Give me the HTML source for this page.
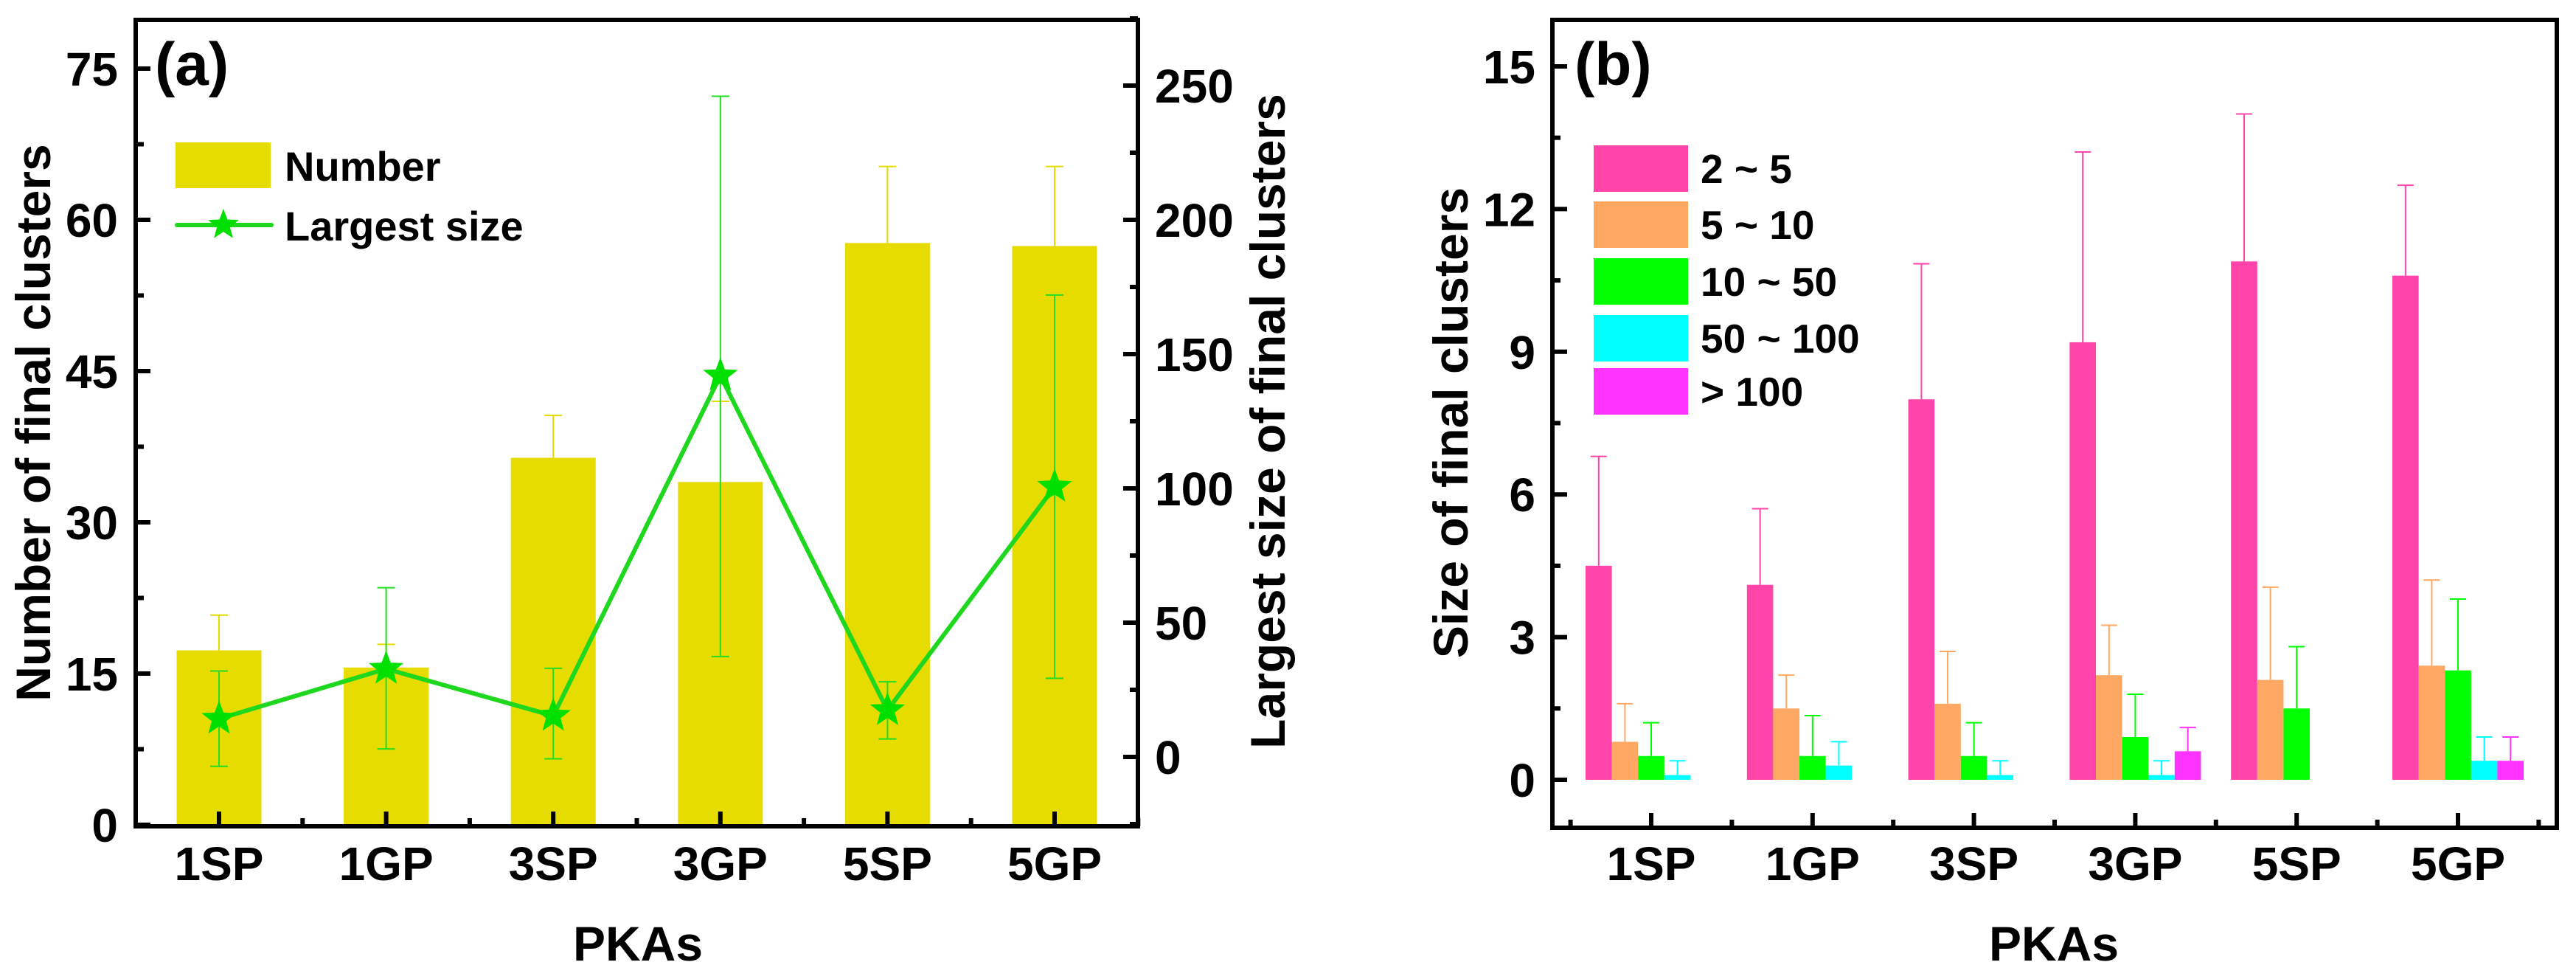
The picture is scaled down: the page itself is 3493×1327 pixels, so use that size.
<!DOCTYPE html>
<html><head><meta charset="utf-8"><style>
html,body{margin:0;padding:0;background:#fff;}
svg{display:block;font-family:"Liberation Sans",Arial,sans-serif;font-weight:bold;}
</style></head><body>
<svg id="chart" width="3493" height="1327" viewBox="0 0 3493 1327" xmlns="http://www.w3.org/2000/svg">
<g id="pa"></g>
<g id="pb"></g>
</svg>
<script>
// ---- Panel (a) data ----
const catsA = ["1SP","1GP","3SP","3GP","5SP","5GP"];
const numberVals = [17.3, 15.6, 36.4, 34.0, 57.7, 57.4];
const numberErrTop = [20.8, 17.9, 40.6, 42.0, 65.3, 65.3];
const largestVals = [14.2, 32.8, 15.3, 142, 17.4, 100.6];
const largestErrHi = [32, 63, 33, 246, 28, 172];
const largestErrLo = [-3.5, 3, -0.7, 37.4, 6.7, 29.3];
const ticksLeftA = [0,15,30,45,60,75];
const ticksRightA = [0,50,100,150,200,250];
// ---- Panel (b) data ----
const catsB = ["1SP","1GP","3SP","3GP","5SP","5GP"];
const seriesNames = ["2 ~ 5","5 ~ 10","10 ~ 50","50 ~ 100","> 100"];
const s25 = [4.5, 4.1, 8.0, 9.2, 10.9, 10.6];
const s25Err = [6.8, 5.7, 10.85, 13.2, 14.0, 12.5];
const s510 = [0.8, 1.5, 1.6, 2.2, 2.1, 2.4];
const s510Err = [1.6, 2.2, 2.7, 3.25, 4.05, 4.2];
const s1050 = [0.5, 0.5, 0.5, 0.9, 1.5, 2.3];
const s1050Err = [1.2, 1.35, 1.2, 1.8, 2.8, 3.8];
const s50100 = [0.1, 0.3, 0.1, 0.1, null, 0.4];
const s50100Err = [0.4, 0.8, 0.4, 0.4, null, 0.9];
const s100 = [null, null, null, 0.6, null, 0.4];
const s100Err = [null, null, null, 1.1, null, 0.9];
const ticksB = [0,3,6,9,12,15];

const NS="http://www.w3.org/2000/svg";
function mk(parent, tag, attrs, text){
  const e=document.createElementNS(NS,tag);
  for(const k in attrs) e.setAttribute(k,attrs[k]);
  if(text!==undefined) e.textContent=text;
  parent.appendChild(e); return e;
}
function star(cx,cy,r){
  let p=[];
  for(let i=0;i<10;i++){const a=-Math.PI/2+i*Math.PI/5;const rr=i%2?r*0.42:r;p.push((cx+rr*Math.cos(a)).toFixed(1)+","+(cy+rr*Math.sin(a)).toFixed(1));}
  return p.join(" ");
}
const TF=64;

// ===== Panel A =====
const A = document.getElementById('pa');
const aL=184, aR=1543, aT=27, aB=1120;
const yA = v => 1118 - v*(1118-93)/75;
const yA2 = v => 1026 - v*(1026-116)/250;
const xA = i => 297 + i*226.6;
const bwA = 115;
numberVals.forEach((v,i)=>{
  const r=mk(A,'rect',{x:xA(i)-bwA/2,y:yA(v),width:bwA,height:yA(0)-yA(v),fill:'#E6DC00'});
  
  
  const e=mk(A,'path',{d:`M${xA(i)} ${yA(v)}V${yA(numberErrTop[i])}M${xA(i)-12} ${yA(numberErrTop[i])}H${xA(i)+12}`,stroke:'#E6DC00','stroke-width':2,fill:'none'});
  
  
});
largestVals.forEach((v,i)=>{
  const x=xA(i),h=yA2(largestErrHi[i]),l=yA2(largestErrLo[i]);
  const e=mk(A,'path',{d:`M${x} ${h}V${l}M${x-12} ${h}H${x+12}M${x-12} ${l}H${x+12}`,stroke:'#22DD22','stroke-width':2,fill:'none'});
  
  
});
const line=mk(A,'polyline',{points:largestVals.map((v,i)=>xA(i)+','+yA2(v)).join(' '),fill:'none',stroke:'#1ED71E','stroke-width':6,'stroke-linejoin':'round'});


largestVals.forEach((v,i)=>{
  const s=mk(A,'polygon',{points:star(xA(i),yA2(v),22),fill:'#00E000',stroke:'#00E000','stroke-width':2});
  
  
});
const fa=mk(A,'rect',{x:aL,y:aT,width:aR-aL,height:aB-aT,fill:'none',stroke:'#000','stroke-width':6});


ticksLeftA.forEach((t,i)=>{
  mk(A,'line',{x1:aL,x2:aL+20,y1:yA(t),y2:yA(t),stroke:'#000','stroke-width':6});
  if(i<ticksLeftA.length-1) mk(A,'line',{x1:aL,x2:aL+11,y1:yA(t+7.5),y2:yA(t+7.5),stroke:'#000','stroke-width':6});
  const tx=mk(A,'text',{x:160,y:yA(t)+23,'text-anchor':'end','font-size':TF},t);
  
  
});
ticksRightA.forEach((t,i)=>{
  mk(A,'line',{x1:aR,x2:aR-20,y1:yA2(t),y2:yA2(t),stroke:'#000','stroke-width':6});
  mk(A,'line',{x1:aR,x2:aR-11,y1:yA2(t+25),y2:yA2(t+25),stroke:'#000','stroke-width':6});
  const tx=mk(A,'text',{x:1566,y:yA2(t)+23,'text-anchor':'start','font-size':TF},t);
  
  
});
mk(A,'line',{x1:aR,x2:aR-11,y1:yA2(-25),y2:yA2(-25),stroke:'#000','stroke-width':6});
catsA.forEach((c,i)=>{
  mk(A,'line',{x1:xA(i),x2:xA(i),y1:aB,y2:aB-20,stroke:'#000','stroke-width':6});
  mk(A,'line',{x1:xA(i)+113.3,x2:xA(i)+113.3,y1:aB,y2:aB-11,stroke:'#000','stroke-width':6});
  const tx=mk(A,'text',{x:xA(i),y:1193,'text-anchor':'middle','font-size':TF},c);
  
  
});
let t;
t=mk(A,'text',{x:865,y:1302,'text-anchor':'middle','font-size':66},'PKAs');

t=mk(A,'text',{x:0,y:0,'text-anchor':'middle','font-size':66,transform:'translate(68,573) rotate(-90)'},'Number of final clusters');

t=mk(A,'text',{x:0,y:0,'text-anchor':'middle','font-size':66,transform:'translate(1742,571) rotate(-90)'},'Largest size of final clusters');

t=mk(A,'text',{x:210,y:115,'font-size':82},'(a)');

t=mk(A,'rect',{x:238,y:193,width:129,height:62,fill:'#E6DC00'});

t=mk(A,'text',{x:386,y:245,'font-size':56},'Number');

mk(A,'line',{x1:240,x2:368,y1:305,y2:305,stroke:'#1ED71E','stroke-width':6,'stroke-linecap':'round'});
t=mk(A,'polygon',{points:star(303,305,22),fill:'#00E000'});

t=mk(A,'text',{x:386,y:326,'font-size':56},'Largest size');


// ===== Panel B =====
const B=document.getElementById('pb');
const bL=2105, bR=3467, bT=27, bB=1122;
const yB = v => 1057 - v*(1057-90)/15;
const xB = i => 2239 + i*218.8;
const bwB = 35.6;
const colors=['#FF44AA','#FFA864','#00FF00','#00FFFF','#FF33FF'];
const allS=[s25,s510,s1050,s50100,s100];
const allE=[s25Err,s510Err,s1050Err,s50100Err,s100Err];
allS.forEach((ser,k)=>{
  ser.forEach((v,i)=>{
    if(v===null) return;
    const x0=xB(i)+(k-2.5)*bwB;
    const r=mk(B,'rect',{x:x0,y:yB(v),width:bwB,height:yB(0)-yB(v),fill:colors[k]});
    
    
    const ev=allE[k][i];
    if(ev!==null){
      const cx=x0+bwB/2;
      const e=mk(B,'path',{d:`M${cx} ${yB(v)}V${yB(ev)}M${cx-11} ${yB(ev)}H${cx+11}`,stroke:colors[k],'stroke-width':2,fill:'none'});
      
      
    }
  });
});
const fb=mk(B,'rect',{x:bL,y:bT,width:bR-bL,height:bB-bT,fill:'none',stroke:'#000','stroke-width':6});


ticksB.forEach((tk,i)=>{
  mk(B,'line',{x1:bL,x2:bL+20,y1:yB(tk),y2:yB(tk),stroke:'#000','stroke-width':6});
  mk(B,'line',{x1:bL,x2:bL+11,y1:yB(tk+1.5),y2:yB(tk+1.5),stroke:'#000','stroke-width':6});
  const tx=mk(B,'text',{x:2082,y:yB(tk)+23,'text-anchor':'end','font-size':TF},tk);
  
  
});
catsB.forEach((c,i)=>{
  mk(B,'line',{x1:xB(i),x2:xB(i),y1:bB,y2:bB-20,stroke:'#000','stroke-width':6});
  mk(B,'line',{x1:xB(i)-109.4,x2:xB(i)-109.4,y1:bB,y2:bB-11,stroke:'#000','stroke-width':6});
  const tx=mk(B,'text',{x:xB(i),y:1193,'text-anchor':'middle','font-size':TF},c);
  
  
});
mk(B,'line',{x1:xB(5)+109.4,x2:xB(5)+109.4,y1:bB,y2:bB-11,stroke:'#000','stroke-width':6});
t=mk(B,'text',{x:2785,y:1302,'text-anchor':'middle','font-size':66},'PKAs');

t=mk(B,'text',{x:0,y:0,'text-anchor':'middle','font-size':66,transform:'translate(1990,573) rotate(-90)'},'Size of final clusters');

t=mk(B,'text',{x:2135,y:115,'font-size':82},'(b)');

const legY=[197,273,350,427,499];
seriesNames.forEach((n,k)=>{
  const r=mk(B,'rect',{x:2161,y:legY[k],width:128,height:63,fill:colors[k]});
  
  
  const tx=mk(B,'text',{x:2306,y:legY[k]+51,'font-size':55},n);
  
  
});
</script>
</body></html>
